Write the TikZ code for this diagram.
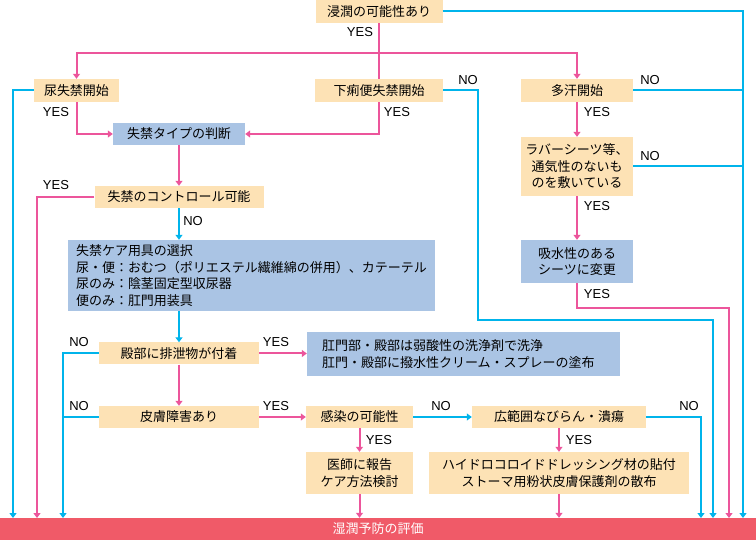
\documentclass[tikz,border=0pt]{standalone}
\usepackage{fontspec}
\setmainfont{Liberation Sans}
\newfontfamily\jp{Noto Sans CJK JP}
\usetikzlibrary{arrows.meta}
\definecolor{peach}{HTML}{FDE2B5}
\definecolor{lblue}{HTML}{AAC4E4}
\definecolor{pinkln}{HTML}{EC559B}
\definecolor{cyanln}{HTML}{00B4EB}
\definecolor{barred}{HTML}{F05A68}
\begin{document}
\begin{tikzpicture}[x=1pt,y=-1pt,
  box/.style={fill=peach, inner sep=0pt, font=\jp\fontsize{13}{16.5}\selectfont, align=center},
  bbox/.style={box, fill=lblue},
  pk/.style={draw=pinkln, line width=2pt},
  bl/.style={draw=cyanln, line width=2pt},
  tip/.style={-{Triangle[width=7pt,length=5pt]}},
  lbl/.style={font=\fontsize{13}{15}\selectfont, inner sep=0pt}
]
\useasboundingbox (0,0) rectangle (756,540);

% boxes
\node[box, minimum width=127pt, minimum height=23pt] (top) at (379,11.5) {浸潤の可能性あり};
\node[box, minimum width=85pt, minimum height=23pt] (nyo) at (76.5,90.5) {尿失禁開始};
\node[box, minimum width=128pt, minimum height=23pt] (geri) at (379,90.5) {下痢便失禁開始};
\node[box, minimum width=112pt, minimum height=23pt] (ta) at (577,90.5) {多汗開始};
\node[bbox, minimum width=132pt, minimum height=22pt] (type) at (179,134) {失禁タイプの判断};
\node[box, minimum width=112pt, minimum height=59pt] (rub) at (577,166.5) {ラバーシーツ等、\\通気性のないも\\のを敷いている};
\node[box, minimum width=169pt, minimum height=22pt] (ctrl) at (179,197) {失禁のコントロール可能};
\node[bbox, minimum width=112pt, minimum height=43pt] (kyu) at (577,261.5) {吸水性のある\\シーツに変更};
\node[bbox, minimum width=367pt, minimum height=71pt, align=left] (sel) at (251.5,275.5) {失禁ケア用具の選択\\尿・便：おむつ（ポリエステル繊維綿の併用）、カテーテル\\尿のみ：陰茎固定型収尿器\\便のみ：肛門用装具};
\node[box, minimum width=160pt, minimum height=22pt] (denbu) at (179,353.5) {殿部に排泄物が付着};
\node[bbox, minimum height=44pt, inner xsep=15pt, text width=283pt, align=left] (kou) at (463.5,354) {肛門部・殿部は弱酸性の洗浄剤で洗浄\\肛門・殿部に撥水性クリーム・スプレーの塗布};
\node[box, minimum width=160pt, minimum height=22pt] (hifu) at (179,417) {皮膚障害あり};
\node[box, minimum width=107pt, minimum height=22pt] (kansen) at (359.5,417) {感染の可能性};
\node[box, minimum width=107pt, minimum height=42pt] (ishi) at (359.5,473) {医師に報告\\ケア方法検討};
\node[box, minimum width=174pt, minimum height=22pt] (kouhan) at (559,417) {広範囲なびらん・潰瘍};
\node[box, minimum width=260pt, minimum height=42pt] (hydro) at (559,473) {ハイドロコロイドドレッシング材の貼付\\ストーマ用粉状皮膚保護剤の散布};
\node[box, fill=barred, text=white, minimum width=756pt, minimum height=22pt] (bar) at (378,529) {湿潤予防の評価};

% end points on the bar
\coordinate (b13) at (13,518);
\coordinate (b37) at (37,518);
\coordinate (b63) at (63,518);
\coordinate (b701) at (701,518);
\coordinate (b713) at (713,518);
\coordinate (b729) at (729,518);
\coordinate (b743) at (743,518);
\coordinate (j1) at (379,53);
\coordinate (g1) at (478,320);
\coordinate (k1) at (577,308);

% connectors
\draw[pk] (top.south) -- (geri.north);
\draw[pk,tip] (j1) -| (nyo.north);
\draw[pk,tip] (j1) -| (ta.north);
\draw[bl,tip] (top.east) -| (b743);
\draw[bl,tip] (nyo.west) -| (b13);
\draw[pk,tip] (nyo.south) |- (type.west);
\draw[pk,tip] (geri.south) |- (type.east);
\draw[bl,tip] (geri.east) -| (g1) -| (b713);
\draw[bl] (ta.east) -- (ta.east -| b743);
\draw[pk,tip] (ta.south) -- (rub.north);
\draw[bl] (rub.east) -- (rub.east -| b743);
\draw[pk,tip] (rub.south) -- (kyu.north);
\draw[pk,tip] (kyu.south) -- (k1) -| (b729);
\draw[pk,tip] (type.south) -- (ctrl.north);
\draw[pk,tip] (ctrl.west) -| (b37);
\draw[bl,tip] (ctrl.south) -- (ctrl.south |- sel.north);
\draw[bl,tip] (denbu.north |- sel.south) -- (denbu.north);
\draw[bl,tip] (denbu.west) -| (b63);
\draw[bl] (hifu.west) -- (hifu.west -| b63);
\draw[pk,tip] (denbu.east) -- (denbu.east -| kou.west);
\draw[pk,tip] (denbu.south) -- (hifu.north);
\draw[pk,tip] (hifu.east) -- (kansen.west);
\draw[bl,tip] (kansen.east) -- (kouhan.west);
\draw[pk,tip] (kansen.south) -- (ishi.north);
\draw[pk,tip] (ishi.south) -- (ishi.south |- bar.north);
\draw[bl,tip] (kouhan.east) -| (b701);
\draw[pk,tip] (kouhan.south) -- (hydro.north);
\draw[pk,tip] (hydro.south) -- (hydro.south |- bar.north);

% labels
\node[lbl] (l1) at (360,32) {YES};
\node[lbl] (l2) at (56,112) {YES};
\node[lbl] (l3) at (468,80) {NO};
\node[lbl] (l4) at (397,112) {YES};
\node[lbl] (l5) at (650,80) {NO};
\node[lbl] (l6) at (597,112) {YES};
\node[lbl] (l7) at (650,156) {NO};
\node[lbl] (l8) at (597,206) {YES};
\node[lbl] (l9) at (597,294) {YES};
\node[lbl] (l10) at (56,185) {YES};
\node[lbl] (l11) at (193,221) {NO};
\node[lbl] (l12) at (79,342) {NO};
\node[lbl] (l13) at (276,342) {YES};
\node[lbl] (l14) at (79,406) {NO};
\node[lbl] (l15) at (276,406) {YES};
\node[lbl] (l16) at (379,440) {YES};
\node[lbl] (l17) at (441,406) {NO};
\node[lbl] (l18) at (579,440) {YES};
\node[lbl] (l19) at (689,406) {NO};
\end{tikzpicture}
\end{document}
